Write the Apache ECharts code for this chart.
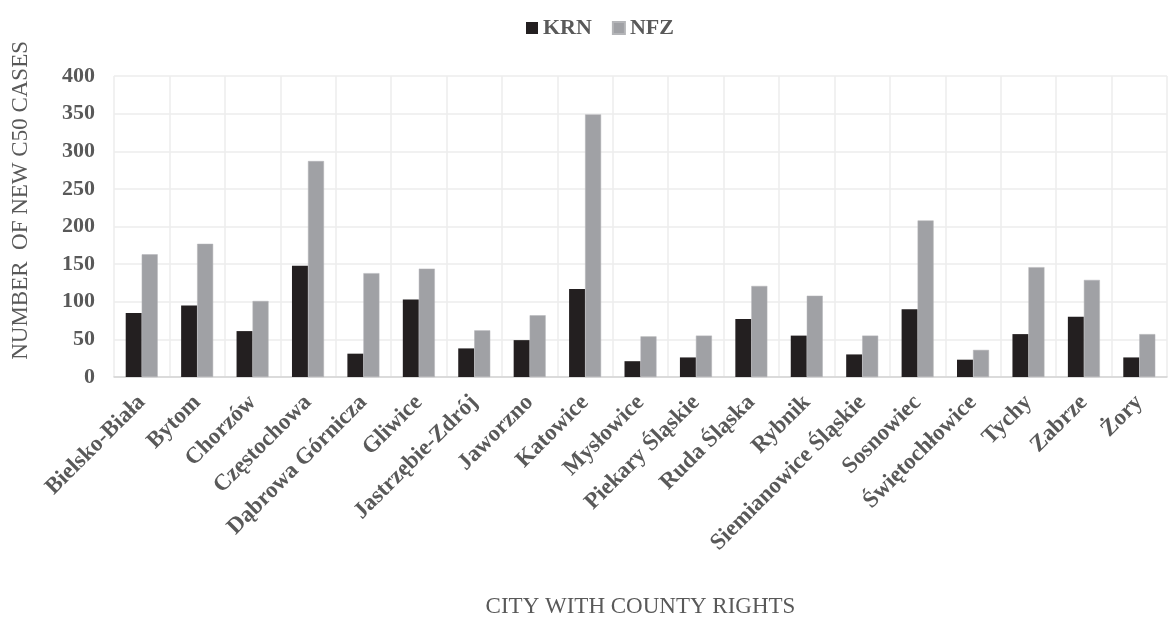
<!DOCTYPE html>
<html>
<head>
<meta charset="utf-8">
<script src="https://cdn.jsdelivr.net/npm/echarts@6/dist/echarts.min.js"></script>
<style>
  html, body { margin: 0; padding: 0; background: #fff; }
  #chart { width: 1169px; height: 619px; }
</style>
</head>
<body>
<div id="chart"></div>
<script>
const cities = ['Bielsko-Biała', 'Bytom', 'Chorzów', 'Częstochowa', 'Dąbrowa Górnicza', 'Gliwice',
  'Jastrzębie-Zdrój', 'Jaworzno', 'Katowice', 'Mysłowice', 'Piekary Śląskie', 'Ruda Śląska',
  'Rybnik', 'Siemianowice Śląskie', 'Sosnowiec', 'Świętochłowice', 'Tychy', 'Zabrze', 'Żory']
const krn = [85, 95, 61, 148, 31, 103, 38, 49, 117, 21, 26, 77, 55, 30, 90, 23, 57, 80, 26]
const nfz = [163, 177, 101, 287, 138, 144, 62, 82, 349, 54, 55, 121, 108, 55, 208, 36, 146, 129, 57]
const yTicks = [0, 50, 100, 150, 200, 250, 300, 350, 400]

const serif = '"Liberation Serif", "DejaVu Serif", serif'
const textGray = '#595959'

const myChart = echarts.init(document.getElementById('chart'))
const options = {
  backgroundColor: '#fff',
  animation: false,
  legend: {
    top: 12,
    left: 521,
    itemWidth: 12,
    itemHeight: 12,
    itemGap: 20,
    icon: 'rect',
    textStyle: { fontFamily: serif, fontSize: 22, fontWeight: 'bold', color: textGray },
    data: ['KRN', 'NFZ']
  },
  grid: { left: 114, right: 2, top: 76, bottom: 242, containLabel: false, outerBoundsMode: 'none' },
  xAxis: {
    type: 'category',
    data: cities,
    name: 'CITY WITH COUNTY RIGHTS',
    nameLocation: 'middle',
    nameGap: 218,
    nameTextStyle: { fontFamily: serif, fontSize: 23, color: textGray },
    axisLine: { lineStyle: { color: '#d4d4d4', width: 1.5 } },
    axisTick: { show: false },
    splitLine: { show: true, interval: 0, lineStyle: { color: '#ececec', width: 1.5 } },
    axisLabel: {
      interval: 0,
      rotate: 45,
      margin: 22,
      fontFamily: serif,
      fontSize: 23,
      fontWeight: 'bold',
      color: textGray
    }
  },
  yAxis: {
    type: 'value',
    min: yTicks[0],
    max: yTicks[yTicks.length - 1],
    interval: 50,
    axisLine: { show: false },
    axisTick: { show: false },
    splitLine: { lineStyle: { color: '#ececec', width: 1.5 } },
    axisLabel: { margin: 19, fontFamily: serif, fontSize: 22, fontWeight: 'bold', color: textGray }
  },
  graphic: [{
    type: 'text',
    left: 9,
    top: 41,
    rotation: Math.PI / 2,
    style: {
      text: 'NUMBER  OF NEW C50 CASES',
      fontFamily: serif,
      fontSize: 23,
      fill: textGray
    }
  }],
  series: [
    {
      name: 'KRN',
      type: 'bar',
      data: krn,
      barWidth: 16,
      barGap: '0%',
      itemStyle: { color: '#231f20' }
    },
    {
      name: 'NFZ',
      type: 'bar',
      data: nfz,
      barWidth: 16,
      itemStyle: { color: '#a0a1a5', borderColor: '#b4b5b8', borderWidth: 0.5 }
    }
  ]
}
myChart.setOption(options)
</script>
</body>
</html>
